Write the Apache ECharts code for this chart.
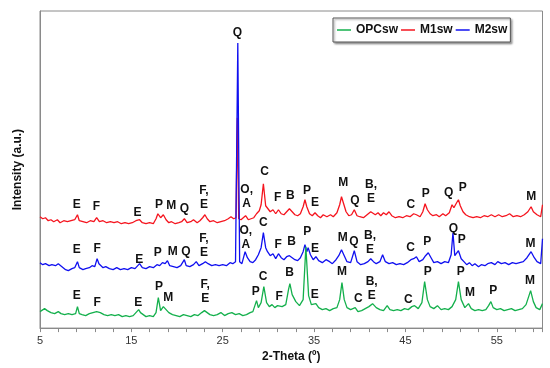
<!DOCTYPE html>
<html>
<head>
<meta charset="utf-8">
<script src="https://cdn.jsdelivr.net/npm/echarts@6/dist/echarts.min.js"></script>
<style>html,body{margin:0;padding:0;background:#fff}#c{width:550px;height:368px}</style>
</head>
<body>
<div id="c"></div>
<script>
// x: 2-Theta (deg), y: intensity (a.u., stacked with visual offsets as in the figure)
const xTicks = [5, 15, 25, 35, 45, 55];
const seriesNames = ['OPCsw', 'M1sw', 'M2sw'];

const opcsw = [
[5.0,18],[5.5,21],[5.8,19],[6.2,17],[6.6,16],[7.0,18],[7.3,16],[7.7,15],[8.1,16],[8.5,15],[8.9,16],[9.1,23],[9.3,16],[9.6,15],
[10.0,14],[10.4,16],[10.8,17],[11.2,18],[11.6,17],[12.0,15],[12.4,14],[12.8,15],[13.2,14],[13.6,15],[14.0,13],[14.4,14],[14.8,13],
[15.2,14],[15.5,17],[15.8,20],[16.0,17],[16.3,15],[16.6,13],[17.0,14],[17.4,13],[17.7,17],[17.95,32],[18.2,19],[18.5,23],[18.8,20],
[19.1,17],[19.5,15],[19.9,14],[20.3,13],[20.7,15],[21.1,14],[21.5,13],[21.9,15],[22.3,14],[22.7,17],[23.0,19],[23.3,17],[23.6,15],
[24.0,14],[24.4,15],[24.8,17],[25.0,19],[25.2,14],[25.6,16],[26.0,17],[26.4,15],[26.8,16],[27.2,14],[27.6,15],[28.0,17],[28.3,18],
[28.7,29],[28.9,22],[29.2,27],[29.5,43],[29.8,27],[30.1,23],[30.4,25],[30.7,22],[31.0,24],[31.2,25],[31.5,23],[31.9,25],[32.2,40],
[32.35,46],[32.6,35],[32.8,37],[33.0,28],[33.4,24],[33.8,30],[34.1,83],[34.4,34],[34.7,25],[35.2,26],[35.5,22],[35.9,20],[36.3,21],
[36.7,19],[37.1,21],[37.5,22],[37.8,30],[38.05,47],[38.3,30],[38.6,22],[39.0,20],[39.5,22],[39.8,18],[40.2,19],[40.6,21],[41.0,23],
[41.4,26],[41.8,22],[42.2,20],[42.6,19],[43.0,24],[43.3,20],[43.7,19],[44.1,20],[44.5,19],[44.9,21],[45.3,20],[45.7,23],[46.0,24],
[46.4,21],[46.8,27],[47.1,48],[47.4,30],[47.7,23],[48.1,21],[48.5,24],[48.9,20],[49.3,21],[49.7,20],[50.1,23],[50.5,30],[50.8,48],
[51.1,30],[51.5,22],[51.9,26],[52.2,21],[52.6,19],[53.0,20],[53.4,19],[53.8,20],[54.1,24],[54.35,28],[54.6,22],[55.0,20],[55.4,21],
[55.8,19],[56.2,20],[56.6,21],[57.0,19],[57.4,20],[57.8,21],[58.2,25],[58.7,39],[59.0,28],[59.3,22],[59.7,20],[60.0,26]
];

const m1sw = [
[5.0,113],[5.3,111],[5.6,112],[5.9,109],[6.2,110],[6.5,108],[6.9,110],[7.2,107],[7.6,109],[8.0,108],[8.4,109],[8.8,110],[9.1,115],
[9.3,109],[9.7,108],[10.1,107],[10.5,109],[10.9,108],[11.2,112],[11.5,108],[11.9,109],[12.3,107],[12.7,108],[13.1,107],[13.5,108],
[13.9,106],[14.3,107],[14.7,106],[15.1,107],[15.5,109],[15.9,110],[16.2,107],[16.6,106],[17.0,107],[17.4,106],[17.7,111],[17.9,116],
[18.2,112],[18.5,115],[18.8,110],[19.1,107],[19.4,108],[19.8,106],[20.2,107],[20.5,108],[20.8,111],[21.1,107],[21.5,108],[21.8,110],
[22.2,107],[22.5,109],[22.8,112],[23.05,115],[23.3,111],[23.6,108],[24.0,109],[24.4,107],[24.8,108],[25.2,109],[25.6,111],[25.9,113],
[26.2,111],[26.45,112],[26.6,212],[26.75,111],[27.0,110],[27.2,109],[27.5,114],[27.8,110],[28.1,111],[28.4,112],[28.7,116],[29.0,119],
[29.2,125],[29.45,146],[29.7,124],[29.9,122],[30.2,118],[30.5,120],[30.8,116],[31.1,120],[31.4,116],[31.7,115],[32.0,118],[32.3,121],
[32.6,118],[32.9,115],[33.2,114],[33.5,116],[33.8,123],[34.0,130],[34.2,123],[34.5,116],[34.8,114],[35.1,117],[35.4,114],[35.7,112],
[36.0,115],[36.4,113],[36.8,115],[37.1,113],[37.5,117],[37.8,125],[38.0,133],[38.2,127],[38.5,118],[38.8,114],[39.1,115],[39.4,120],
[39.7,114],[40.0,113],[40.4,112],[40.8,115],[41.2,118],[41.4,120],[41.7,115],[42.0,117],[42.3,114],[42.6,117],[42.9,115],[43.2,118],
[43.5,114],[43.9,112],[44.3,113],[44.7,112],[45.1,114],[45.5,113],[45.9,116],[46.2,115],[46.6,113],[46.9,118],[47.15,126],[47.4,120],
[47.7,116],[48.0,114],[48.4,115],[48.7,113],[49.1,116],[49.4,114],[49.8,117],[50.1,125],[50.3,122],[50.6,127],[50.8,130],[51.0,124],
[51.3,118],[51.6,115],[52.0,113],[52.4,112],[52.8,113],[53.2,112],[53.6,114],[54.0,113],[54.4,115],[54.8,113],[55.2,115],[55.6,113],
[56.0,114],[56.4,116],[56.8,113],[57.2,114],[57.6,113],[58.0,115],[58.4,118],[58.75,123],[59.0,118],[59.4,115],[59.8,113],[60.0,125]
];

const m2sw = [
[5.0,67],[5.3,65],[5.6,66],[6.0,64],[6.3,65],[6.7,64],[7.0,66],[7.4,63],[7.8,60],[8.1,59],[8.5,61],[8.8,62],[9.1,68],[9.3,62],
[9.7,60],[10.0,61],[10.4,62],[10.7,64],[11.0,63],[11.25,71],[11.45,66],[11.6,68],[11.9,62],[12.2,63],[12.6,61],[13.0,60],[13.4,62],
[13.8,60],[14.2,61],[14.6,60],[15.0,62],[15.4,61],[15.9,66],[16.2,62],[16.6,61],[17.0,63],[17.4,62],[17.8,65],[18.1,64],[18.4,67],
[18.7,66],[18.95,69],[19.2,64],[19.6,63],[20.0,62],[20.4,64],[20.8,70],[21.0,64],[21.4,63],[21.8,65],[22.1,68],[22.4,64],[22.8,66],
[23.1,68],[23.4,66],[23.8,64],[24.2,65],[24.6,64],[25.0,65],[25.4,64],[25.8,67],[26.1,66],[26.4,68],[26.65,287],[26.85,68],[27.1,66],
[27.45,78],[27.7,72],[28.0,68],[28.3,67],[28.6,70],[28.9,75],[29.2,82],[29.45,97],[29.7,82],[29.9,78],[30.2,74],[30.5,76],[30.8,71],
[31.1,76],[31.4,72],[31.7,70],[32.0,73],[32.3,74],[32.6,72],[32.9,70],[33.2,69],[33.5,72],[33.8,78],[34.0,85],[34.2,78],[34.35,82],
[34.6,75],[34.9,70],[35.2,73],[35.5,69],[35.9,67],[36.3,70],[36.7,68],[37.0,66],[37.4,70],[37.7,74],[38.0,80],[38.3,74],[38.6,68],
[39.0,67],[39.4,79],[39.7,68],[40.1,65],[40.5,66],[40.9,68],[41.2,71],[41.5,68],[41.8,66],[42.2,68],[42.5,75],[42.8,68],[43.2,66],
[43.6,67],[44.0,65],[44.4,66],[44.8,65],[45.2,67],[45.6,70],[45.9,71],[46.2,73],[46.5,68],[46.9,70],[47.2,74],[47.5,77],[47.8,72],
[48.1,67],[48.5,68],[48.9,66],[49.3,68],[49.7,67],[50.0,75],[50.2,97],[50.4,74],[50.6,72],[50.8,79],[51.1,71],[51.4,68],[51.7,65],
[52.0,67],[52.3,64],[52.6,66],[53.0,63],[53.3,65],[53.7,64],[54.0,66],[54.4,67],[54.8,65],[55.1,68],[55.5,66],[55.9,67],[56.3,65],
[56.7,67],[57.1,66],[57.5,67],[57.9,68],[58.3,72],[58.75,78],[59.1,72],[59.4,68],[59.8,66],[60.0,91]
];

// peak annotations: [text, 2-Theta, intensity position]
const peakLabels = [
['Q',26.6,297],
['E',9.02,125],['F',11.18,123.5],['E',15.67,116.7],['P',18.03,124.7],['M',19.37,123.7],['Q',20.82,121],['F,\nE',22.95,131.7],
['O,\nA',27.62,132.7],['C',29.57,158.3],['F',31.02,132],['B',32.4,134],['P',34.22,139.5],['E',35.1,126.7],['M',38.2,147],
['Q',39.48,129.3],['B,\nE',41.23,138.3],['C',45.59,125.4],['P',47.23,136],['Q',49.73,137.5],['P',51.28,141.8],['M',58.78,132.7],
['E',9.02,80],['F',11.27,81.3],['E',15.87,70.4],['P',17.89,77.5],['M',19.52,78],['Q',20.96,78.5],['F,\nE',22.95,84],
['O,\nA',27.53,92.5],['C',29.44,107.5],['F',31.08,85],['B',32.55,88.3],['P',34.26,98.3],['E',35.1,80.7],['M',38.13,91.7],
['Q',39.37,88.3],['B,\nE',41.12,87],['C',45.57,81.7],['P',47.39,88.3],['Q',50.24,101],['P',51.15,90],['M',58.7,86],
['E',9.02,33.7],['F',11.27,27],['E',15.76,27],['P',18.03,42.7],['M',19.05,31.7],['F,\nE',23.09,38.2],['P',28.61,38],
['C',29.41,52.7],['F',31.18,33],['B',32.33,56.7],['E',35.07,35.2],['M',38.06,57.5],['C',39.84,31],['B,\nE',41.3,41],
['C',45.31,30.3],['P',47.44,57.7],['P',51.05,57.7],['M',52.07,36.7],['P',54.62,39.3],['M',58.63,49.3]
];

const colors = {OPCsw:'#14b04c', M1sw:'#f5141e', M2sw:'#1010f0'};
const chart = echarts.init(document.getElementById('c'), null, {renderer:'canvas'});
const lineSeries = (name, data) => ({
  name, type:'line', data, symbol:'none', showSymbol:false, smooth:false,
  lineStyle:{color:colors[name], width:1.3}, itemStyle:{color:colors[name]},
  animation:false, z:2
});
chart.setOption({
  animation:false,
  backgroundColor:'#fff',
  grid:{left:40, right:7.5, top:11, bottom:39.5, show:true, borderColor:'#8a8a8a', borderWidth:1, containLabel:false},
  legend:{
    data:seriesNames.map(n => ({name:n, icon:'rect', itemStyle:{color:colors[n]}})),
    left:333, top:18, orient:'horizontal',
    itemWidth:14, itemHeight:1.5, itemGap:3,
    padding:[5,3,5,4],
    backgroundColor:'#fff', borderColor:'#555', borderWidth:1,
    shadowColor:'rgba(0,0,0,0.35)', shadowBlur:2, shadowOffsetX:1.5, shadowOffsetY:1.5,
    textStyle:{fontFamily:'Liberation Sans, Arial, sans-serif', fontWeight:'bold', fontSize:12, color:'#111', lineHeight:14}
  },
  xAxis:{
    type:'value', min:5, max:60, interval:2,
    name:'2-Theta (º)', nameLocation:'middle', nameGap:17,
    nameTextStyle:{fontFamily:'Liberation Sans, Arial, sans-serif', fontWeight:'bold', fontSize:12, color:'#111'},
    axisLine:{show:true, lineStyle:{color:'#8a8a8a', width:1}},
    axisTick:{show:true, inside:false, length:4, lineStyle:{color:'#8a8a8a'}},
    axisLabel:{margin:7, fontSize:11, color:'#333', fontFamily:'Liberation Sans, Arial, sans-serif',
      formatter:v => xTicks.indexOf(Math.round(v*1000)/1000) >= 0 ? String(v) : ''},
    splitLine:{show:false}
  },
  yAxis:{
    type:'value', min:1.5, max:319,
    name:'Intensity (a.u.)', nameLocation:'middle', nameGap:16, nameRotate:90,
    nameTextStyle:{fontFamily:'Liberation Sans, Arial, sans-serif', fontWeight:'bold', fontSize:12, color:'#111'},
    axisLine:{show:true, lineStyle:{color:'#8a8a8a', width:1}},
    axisTick:{show:false}, axisLabel:{show:false}, splitLine:{show:false}
  },
  series:[
    lineSeries('M1sw', m1sw),
    lineSeries('M2sw', m2sw),
    lineSeries('OPCsw', opcsw),
    {
      type:'scatter', silent:true, z:5, symbol:'circle', symbolSize:1, itemStyle:{color:'rgba(0,0,0,0)'},
      data:peakLabels.map(p => ({name:p[0], value:[p[1], p[2]]})),
      label:{show:true, position:'inside', formatter:'{b}', color:'#111', opacity:1,
        fontFamily:'Liberation Sans, Arial, sans-serif', fontWeight:'bold', fontSize:12, lineHeight:14},
      labelLayout:{hideOverlap:false},
      animation:false
    }
  ]
});
</script>
</body>
</html>
